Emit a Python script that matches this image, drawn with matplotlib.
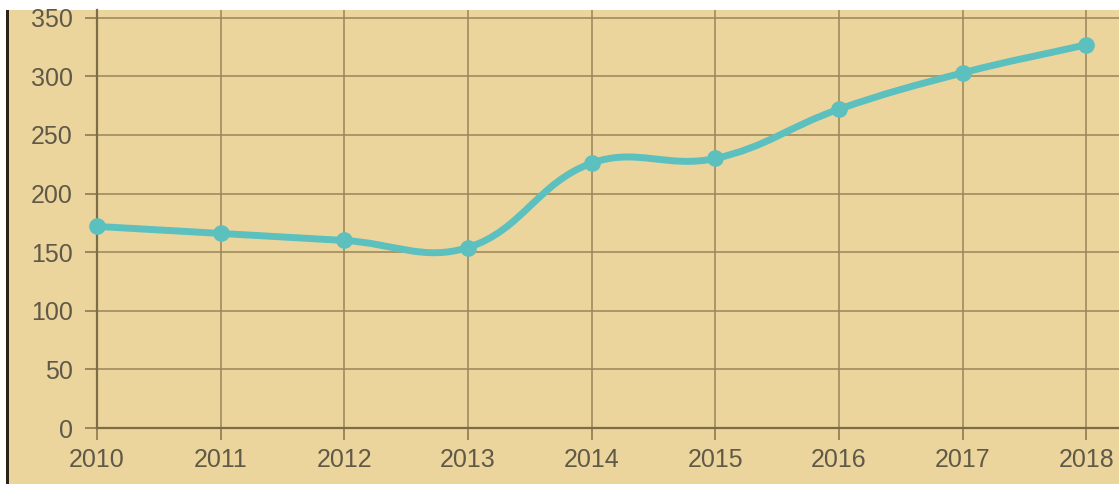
import numpy as np
import matplotlib
matplotlib.use("Agg")
import matplotlib.pyplot as plt
from matplotlib.path import Path
from matplotlib.patches import PathPatch, Rectangle

years = [2010, 2011, 2012, 2013, 2014, 2015, 2016, 2017, 2018]
values = [172, 166, 160, 154, 226, 230, 272, 303, 327]
y_ticks = [0, 50, 100, 150, 200, 250, 300, 350]

W, H = 1119, 484
LINE = "#5cc0bf"
GRID = "#9a8659"
TEXT = "#5f5948"
PAPER = "#ecd59d"


def spline_path(xs, ys, sx, sy, t=0.4):
    # chart.js style bezier (tension 0.4), distances measured in pixels
    n = len(xs)
    verts = [(xs[0], ys[0])]
    codes = [Path.MOVETO]
    ctrl = []
    for i in range(n):
        p = np.array([xs[max(i - 1, 0)], ys[max(i - 1, 0)]], float)
        c = np.array([xs[i], ys[i]], float)
        nx = np.array([xs[min(i + 1, n - 1)], ys[min(i + 1, n - 1)]], float)
        scale = np.array([sx, sy])
        d01 = np.linalg.norm((c - p) * scale)
        d12 = np.linalg.norm((nx - c) * scale)
        tot = d01 + d12
        s01 = d01 / tot if tot else 0
        s12 = d12 / tot if tot else 0
        ctrl.append((c - t * s01 * (nx - p), c + t * s12 * (nx - p)))
    for i in range(1, n):
        verts += [tuple(ctrl[i - 1][1]), tuple(ctrl[i][0]), (xs[i], ys[i])]
        codes += [Path.CURVE4] * 3
    return Path(verts, codes)


fig = plt.figure(figsize=(W / 100, H / 100), dpi=100, facecolor="white")
fig.patches.append(Rectangle((8 / W, 0), 1 - 8 / W, 1 - 10 / H, transform=fig.transFigure,
                             facecolor=PAPER, edgecolor="none", zorder=-10))
fig.patches.append(Rectangle((6 / W, 0), 2.5 / W, 1 - 10 / H, transform=fig.transFigure,
                             facecolor="#2b2418", edgecolor="none", zorder=-9))

px_x, px_y = 123.65, 58.6 / 50
ax = fig.add_axes([97 / W, 56 / H, (W - 97) / W, (428 - 10) / H])
ax.set_facecolor("none")
ax.set_xlim(2010, 2010 + (W - 97) / px_x)
ax.set_ylim(0, (428 - 10) / px_y)

ax.set_xticks(years)
ax.set_yticks(y_ticks)
ax.grid(True, color=GRID, linewidth=1.4, alpha=0.8)
ax.set_axisbelow(True)
for s in ["top", "right"]:
    ax.spines[s].set_visible(False)
for s in ["left", "bottom"]:
    ax.spines[s].set_color("#7d6c45")
    ax.spines[s].set_linewidth(1.6)
ax.tick_params(length=8.6, width=1.4, color=GRID, pad=6, labelcolor=TEXT, labelsize=18)
ax.tick_params(axis="y", pad=9)
for lab in ax.get_xticklabels() + ax.get_yticklabels():
    lab.set_family(["Liberation Sans", "DejaVu Sans"])

path = spline_path(years, values, px_x, px_y)
ax.add_patch(PathPatch(path, facecolor="none", edgecolor=LINE, linewidth=5, zorder=3,
                       capstyle="round", joinstyle="round", clip_on=False))
ax.plot(years, values, "o", color=LINE, markersize=11, zorder=4, clip_on=False)

fig.savefig("out.png", dpi=100, facecolor=fig.get_facecolor())
